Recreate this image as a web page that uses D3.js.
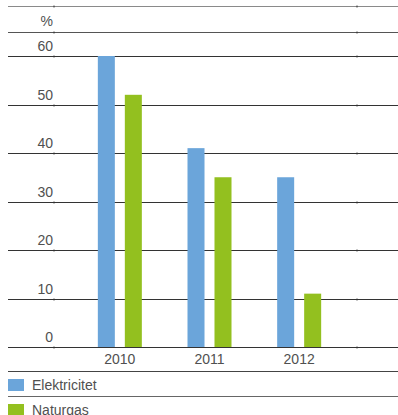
<!DOCTYPE html>
<html>
<head>
<meta charset="utf-8">
<script src="https://cdn.jsdelivr.net/npm/d3@7"></script>
<style>
  body { margin: 0; background: #fff; }
  svg text { font-family: "Liberation Sans", Arial, sans-serif; fill: #505050; }
</style>
</head>
<body>
<div id="chart"></div>
<script>
// ---------- data ----------
var years = ["2010", "2011", "2012"];
var series = ["Elektricitet", "Naturgas"];
var elektricitet = [60, 41, 35];
var naturgas = [52, 35, 11];
var yTicks = [0, 10, 20, 30, 40, 50, 60];
var colors = ["#6ba5da", "#93c01f"];

var width = 398, height = 415;

var svg = d3.select("#chart").append("svg")
    .attr("width", width)
    .attr("height", height);

var y_scale = d3.scaleLinear().domain([0, 60]).range([347, 56]);

var x_scale = d3.scaleBand()
    .domain(years)
    .range([75, 344])
    .paddingInner(0)
    .paddingOuter(0);

// two bars per year, 17px wide with a 10px gap
var sub_scale = d3.scaleBand()
    .domain(series)
    .range([-22, 22])
    .paddingInner(0.37);

// ---------- grid lines ----------
svg.append("line")
    .attr("x1", 8).attr("x2", width)
    .attr("y1", 6.5).attr("y2", 6.5)
    .attr("stroke", "#8a8a8a").attr("stroke-width", 1.2);

svg.append("line")
    .attr("x1", 8).attr("x2", width)
    .attr("y1", 32.5).attr("y2", 32.5)
    .attr("stroke", "#555").attr("stroke-width", 1);

svg.append("text")
    .attr("x", 53).attr("y", 26)
    .attr("text-anchor", "end")
    .style("font-size", "14px")
    .text("%");

var grid = svg.selectAll(".grid").data(yTicks).enter().append("g")
    .attr("class", "grid")
    .attr("transform", function(d) { return "translate(0," + (Math.round(y_scale(d)) + 0.5) + ")"; });

grid.append("line")
    .attr("x1", 8).attr("x2", width)
    .attr("stroke", "#333").attr("stroke-width", 1);

grid.append("text")
    .attr("x", 53).attr("y", -6)
    .attr("text-anchor", "end")
    .style("font-size", "14px")
    .text(function(d) { return d; });

// small column ticks on the lines
var tickYs = [6.5, 32.5].concat(yTicks.map(function(d) { return Math.round(y_scale(d)) + 0.5; }));
[54, 357].forEach(function(xx) {
  svg.selectAll(null).data(tickYs).enter().append("line")
    .attr("x1", xx).attr("x2", xx)
    .attr("y1", function(d) { return d - 1; })
    .attr("y2", function(d) { return d + 1; })
    .attr("stroke", "#333").attr("stroke-width", 1);
});

// ---------- bars ----------
var values = [elektricitet, naturgas];
series.forEach(function(s, si) {
  svg.selectAll(".bar" + si).data(values[si]).enter().append("rect")
    .attr("class", "bar" + si)
    .attr("x", function(d, i) { return x_scale(years[i]) + x_scale.bandwidth() / 2 + sub_scale(s); })
    .attr("width", sub_scale.bandwidth())
    .attr("y", function(d) { return y_scale(d); })
    .attr("height", function(d) { return y_scale(0) - y_scale(d); })
    .attr("fill", colors[si]);
});

// x labels
svg.selectAll(".xlab").data(years).enter().append("text")
    .attr("class", "xlab")
    .attr("x", function(d) { return x_scale(d) + x_scale.bandwidth() / 2; })
    .attr("y", 364)
    .attr("text-anchor", "middle")
    .style("font-size", "14px")
    .text(function(d) { return d; });

// bottom lines
svg.append("line")
    .attr("x1", 8).attr("x2", width)
    .attr("y1", 371.5).attr("y2", 371.5)
    .attr("stroke", "#444").attr("stroke-width", 1);
svg.append("line")
    .attr("x1", 8).attr("x2", width)
    .attr("y1", 396.5).attr("y2", 396.5)
    .attr("stroke", "#666").attr("stroke-width", 1.2);

// ---------- legend ----------
var legend = svg.selectAll(".legend").data(series).enter().append("g")
    .attr("class", "legend")
    .attr("transform", function(d, i) { return "translate(8," + (379 + i * 25) + ")"; });

legend.append("rect")
    .attr("width", 16).attr("height", 12)
    .attr("fill", function(d, i) { return colors[i]; });

legend.append("text")
    .attr("x", 24).attr("y", 11)
    .style("font-size", "14px")
    .text(function(d) { return d; });
</script>
</body>
</html>
